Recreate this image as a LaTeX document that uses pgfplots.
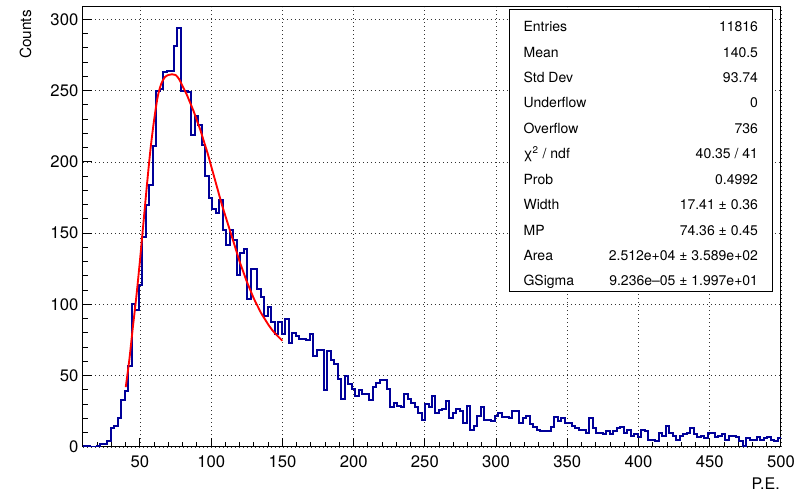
\documentclass[border=0pt]{standalone}
\usepackage{fontspec}
\setmainfont{TeX Gyre Heros}
\usepackage{pgfplots}
\pgfplotsset{compat=1.18}
\definecolor{rootblue}{RGB}{0,0,153}
\begin{document}
\begin{tikzpicture}
\useasboundingbox (0,0) rectangle (595.5pt,371.25pt);
\begin{axis}[
    at={(62.25pt,36pt)}, anchor=south west,
    scale only axis, width=523.5pt, height=330pt,
    xmin=10, xmax=500, ymin=0, ymax=308.7,
    xtick={50,100,...,500}, ytick={0,50,...,300},
    minor xtick={10,20,...,500}, minor ytick={10,20,...,300},
    tick align=inside, xtick pos=left, ytick pos=left,
    major tick length=7pt, minor tick length=3.5pt,
    grid=major, grid style={black!80, line width=0.6pt, dash pattern=on 0.7pt off 2.3pt},
    axis line style={line width=0.75pt},
    tick style={black, line width=0.75pt},
    ticklabel style={font=\fontsize{12.5pt}{14pt}\selectfont},
    xticklabel style={yshift=-3pt},
    /pgf/number format/assume math mode=true,
    scaled ticks=false,
]
% histogram, 200 bins of 2.45 from 10 to 500
\addplot[const plot, draw=rootblue, line width=1.5pt] coordinates {
(10,1) (12.45,1) (14.9,0) (17.35,0) (19.8,1) (22.25,2) (24.7,2) (27.15,4) (29.6,13) (32.05,15)
(34.5,20) (36.95,33) (39.4,39) (41.85,57) (44.3,100) (46.75,96) (49.2,114) (51.65,147) (54.1,170) (56.55,184)
(59,211) (61.45,250) (63.9,251) (66.35,263) (68.8,264) (71.25,264) (73.7,281) (76.15,294) (78.6,250) (81.05,250)
(83.5,249) (85.95,219) (88.4,232) (90.85,226) (93.3,212) (95.75,190) (98.2,175) (100.65,167) (103.1,164) (105.55,173)
(108,152) (110.45,142) (112.9,152) (115.35,145) (117.8,121) (120.25,136) (122.7,139) (125.15,104) (127.6,125) (130.05,125)
(132.5,111) (134.95,105) (137.4,92) (139.85,98) (142.3,88) (144.75,79) (147.2,88) (149.65,79) (152.1,90) (154.55,73)
(157,80) (159.45,78) (161.9,76) (164.35,76) (166.8,75) (169.25,79) (171.7,64) (174.15,68) (176.6,68) (179.05,40)
(181.5,67) (183.95,61) (186.4,58) (188.85,48) (191.3,34) (193.75,50) (196.2,44) (198.65,41) (201.1,36) (203.55,40)
(206,37) (208.45,37) (210.9,33) (213.35,42) (215.8,45) (218.25,47) (220.7,47) (223.15,41) (225.6,28) (228.05,31)
(230.5,29) (232.95,28) (235.4,37) (237.85,34) (240.3,31) (242.75,28) (245.2,24) (247.65,19) (250.1,30) (252.55,28)
(255,36) (257.45,24) (259.9,26) (262.35,27) (264.8,32) (267.25,20) (269.7,24) (272.15,27) (274.6,25) (277.05,17)
(279.5,29) (281.95,12) (284.4,15) (286.85,22) (289.3,28) (291.75,19) (294.2,19) (296.65,18) (299.1,22) (301.55,24)
(304,21) (306.45,21) (308.9,20) (311.35,25) (313.8,25) (316.25,17) (318.7,20) (321.15,22) (323.6,16) (326.05,14)
(328.5,12) (330.95,11) (333.4,11) (335.85,11) (338.3,14) (340.75,21) (343.2,18) (345.65,20) (348.1,17) (350.55,17)
(353,15) (355.45,13) (357.9,12) (360.35,12) (362.8,10) (365.25,20) (367.7,13) (370.15,10) (372.6,10) (375.05,9)
(377.5,11) (379.95,9) (382.4,11) (384.85,13) (387.3,14) (389.75,10) (392.2,12) (394.65,8) (397.1,9) (399.55,7)
(402,12) (404.45,11) (406.9,5) (409.35,5) (411.8,4) (414.25,10) (416.7,8) (419.15,15) (421.6,10) (424.05,8)
(426.5,5) (428.95,8) (431.4,9) (433.85,10) (436.3,13) (438.75,9) (441.2,7) (443.65,8) (446.1,6) (448.55,10)
(451,10) (453.45,7) (455.9,8) (458.35,9) (460.8,5) (463.25,8) (465.7,8) (468.15,7) (470.6,4) (473.05,1)
(475.5,6) (477.95,5) (480.4,5) (482.85,7) (485.3,5) (487.75,6) (490.2,7) (492.65,5) (495.1,4) (497.55,6)
(500,6)
};
% fitted curve
\addplot[red, line width=1.4pt, smooth] coordinates {
(40,42) (42.5,61) (45,84) (47.5,106) (50,131) (52.5,158) (55,185) (57.5,210) (60,230) (62.5,246)
(65,255) (67.5,259.5) (70,261) (72.5,261.5) (75,261) (77.5,258) (80,253) (82.5,248) (85,242) (87.5,236)
(90,229) (92.5,222) (95,214) (97.5,206) (100,197) (102.5,188) (105,179) (107.5,170) (110,162) (112.5,154)
(115,146) (117.5,138) (120,130) (122.5,123) (125,116) (127.5,110) (130,104) (132.5,99) (135,94) (137.5,90)
(140,86) (142.5,82.5) (145,79.5) (147.5,77) (150,74.5)
};
\end{axis}
% axis titles
\node[rotate=90, anchor=east, inner sep=0pt, font=\fontsize{11.5pt}{13pt}\selectfont] at (19.1pt,363.75pt) {Counts};
\node[anchor=base east, inner sep=0pt, font=\fontsize{12pt}{14pt}\selectfont] at (585pt,3.75pt) {P.E.};
% stats box
\draw[fill=white, line width=0.75pt] (381.75pt,152.25pt) rectangle (579pt,363.75pt);
\begin{scope}[every node/.style={inner sep=0pt, font=\fontsize{10.5pt}{12pt}\selectfont}]
\node[anchor=base west] at (392.5pt,347.5pt) {Entries};   \node[anchor=base east] at (568.7pt,347.5pt) {11816};
\node[anchor=base west] at (392.5pt,328.4pt) {Mean};      \node[anchor=base east] at (568.7pt,328.4pt) {140.5};
\node[anchor=base west] at (392.5pt,309.3pt) {Std Dev};   \node[anchor=base east] at (568.7pt,309.3pt) {93.74};
\node[anchor=base west] at (392.5pt,290.3pt) {Underflow}; \node[anchor=base east] at (568.7pt,290.3pt) {0};
\node[anchor=base west] at (392.5pt,271.2pt) {Overflow};  \node[anchor=base east] at (568.7pt,271.2pt) {736};
\node[anchor=base west] at (392.5pt,252.1pt) {χ\textsuperscript{2} / ndf}; \node[anchor=base east] at (568.7pt,252.1pt) {40.35 / 41};
\node[anchor=base west] at (392.5pt,233.0pt) {Prob};      \node[anchor=base east] at (568.7pt,233.0pt) {0.4992};
\node[anchor=base west] at (392.5pt,214.0pt) {Width};     \node[anchor=base east] at (568.7pt,214.0pt) {17.41 ± 0.36};
\node[anchor=base west] at (392.5pt,194.9pt) {MP};        \node[anchor=base east] at (568.7pt,194.9pt) {74.36 ± 0.45};
\node[anchor=base west] at (392.5pt,175.8pt) {Area};      \node[anchor=base east] at (568.7pt,175.8pt) {2.512e+04 ± 3.589e+02};
\node[anchor=base west] at (392.5pt,156.75pt) {GSigma};   \node[anchor=base east] at (568.7pt,156.75pt) {9.236e--05 ± 1.997e+01};
\end{scope}
\end{tikzpicture}
\end{document}
